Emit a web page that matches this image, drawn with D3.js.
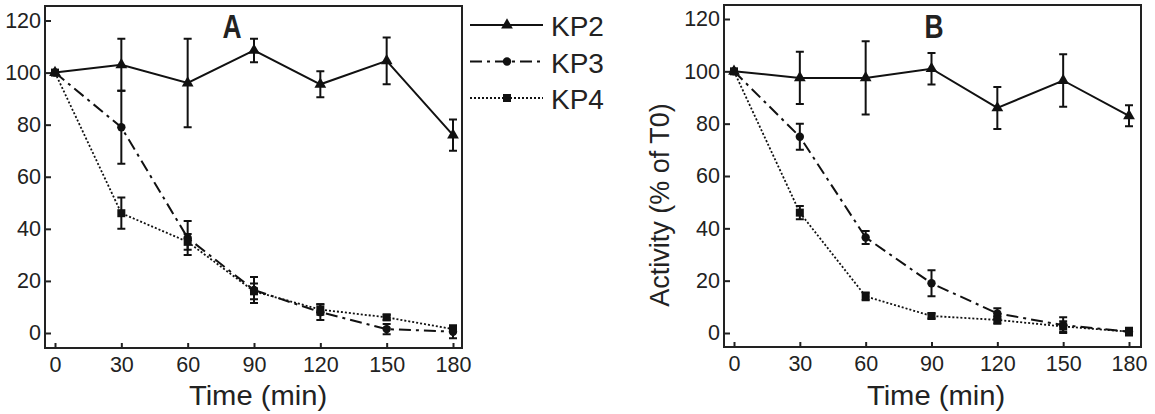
<!DOCTYPE html>
<html lang="en">
<head>
<meta charset="utf-8">
<script src="https://d3js.org/d3.v7.js"></script>
<style>
  body { margin: 0; background: #fff; }
  text { font-family: "Liberation Sans", Arial, sans-serif; fill: #222; }
</style>
</head>
<body>
<div id="my_dataviz"></div>
<script>

// sampling times (min)
const times = [0, 30, 60, 90, 120, 150, 180];

// panel A
const kp2A = [100, 103, 96, 108.5, 95.5, 104.5, 76];
const kp2AErr = [0, 10, 17, 4.5, 5, 9, 6];
const kp3A = [100, 79, 36.5, 16.5, 8, 1.5, 0.5];
const kp3AErr = [0, 14, 6.5, 5, 3, 2, 2.5];
const kp4A = [100, 46, 35, 16, 9, 6, 1.5];
const kp4AErr = [0, 6, 3, 3, 2, 1, 1];

// panel B
const kp2B = [100, 97.5, 97.5, 101, 86, 96.5, 83];
const kp2BErr = [0, 10, 14, 6, 8, 10, 4];
const kp3B = [100, 75, 36.5, 19, 7.5, 3, 0.5];
const kp3BErr = [0, 5, 2.5, 5, 2, 3, 1.5];
const kp4B = [100, 46, 14, 6.5, 5, 2.5, 0.5];
const kp4BErr = [0, 2.5, 1.5, 1, 1.5, 2, 1];

const seriesNames = ["KP2", "KP3", "KP4"];
const xTicks = [0, 30, 60, 90, 120, 150, 180];
const yTicks = [0, 20, 40, 60, 80, 100, 120];

// line style per series
const styles = {
  KP2: { dash: null, width: 2, marker: "triangle" },
  KP3: { dash: "12,5,3,5", width: 2, marker: "circle" },
  KP4: { dash: "2,2", width: 1.8, marker: "square" }
};

const svg = d3.select("#my_dataviz")
  .append("svg")
    .attr("width", 1155)
    .attr("height", 414);

function drawMarker(g, type, cx, cy) {
  if (type === "triangle") {
    g.append("path")
      .attr("d", d3.symbol().type(d3.symbolTriangle).size(60)())
      .attr("transform", `translate(${cx},${cy})`)
      .attr("fill", "#111");
  } else if (type === "circle") {
    g.append("circle").attr("cx", cx).attr("cy", cy).attr("r", 4.2).attr("fill", "#111");
  } else {
    g.append("rect").attr("x", cx - 4).attr("y", cy - 4).attr("width", 8).attr("height", 8).attr("fill", "#111");
  }
}

function panel(opts) {
  const x = d3.scaleLinear().domain([0, 180]).range(opts.xRange);
  const y = d3.scaleLinear().domain([0, 120]).range(opts.yRange);
  const f = opts.frame;
  const g = svg.append("g");

  // frame
  g.append("rect")
    .attr("x", f.left).attr("y", f.top)
    .attr("width", f.right - f.left).attr("height", f.bottom - f.top)
    .attr("fill", "none").attr("stroke", "#222").attr("stroke-width", 2);

  // axes, inward ticks
  const xAxis = g.append("g")
    .attr("transform", `translate(0,${f.bottom})`)
    .call(d3.axisBottom(x).tickValues(xTicks).tickSizeInner(-5).tickSizeOuter(0).tickPadding(9));
  const yAxis = g.append("g")
    .attr("transform", `translate(${f.left},0)`)
    .call(d3.axisLeft(y).tickValues(yTicks).tickSizeInner(-6).tickSizeOuter(0).tickPadding(4));
  [xAxis, yAxis].forEach(a => {
    a.select(".domain").remove();
    a.selectAll("line").attr("stroke", "#222").attr("stroke-width", 2);
    a.selectAll("text").style("font-size", "21.5px").attr("fill", "#222");
  });

  // data
  opts.series.forEach(s => {
    const st = styles[s.name];
    const pts = times.map((t, i) => ({ t: t, v: s.values[i], e: s.errors[i] }));
    g.append("path")
      .datum(pts)
      .attr("d", d3.line().x(d => x(d.t)).y(d => y(d.v)))
      .attr("fill", "none")
      .attr("stroke", "#111")
      .attr("stroke-width", st.width)
      .attr("stroke-dasharray", st.dash);

    // error bars
    pts.filter(d => d.e > 0).forEach(d => {
      const cx = x(d.t), y1 = y(d.v + d.e), y2 = y(d.v - d.e);
      g.append("path")
        .attr("d", `M${cx},${y1}V${y2}M${cx - 4},${y1}H${cx + 4}M${cx - 4},${y2}H${cx + 4}`)
        .attr("fill", "none").attr("stroke", "#111").attr("stroke-width", 2);
    });

    pts.forEach(d => drawMarker(g, st.marker, x(d.t), y(d.v)));
  });

  // panel letter
  g.append("text")
    .attr("transform", `translate(${opts.letterX},38) scale(0.8,1)`)
    .attr("text-anchor", "middle")
    .style("font-size", "33px")
    .style("font-weight", "bold")
    .attr("fill", "#111")
    .text(opts.letter);

  // x axis title
  g.append("text")
    .attr("transform", `translate(${opts.titleX},405) scale(1.08,1)`)
    .attr("text-anchor", "middle")
    .style("font-size", "27px")
    .text("Time (min)");

  return g;
}

panel({
  xRange: [55, 453], yRange: [333, 20.5],
  frame: { left: 45, right: 462, top: 6, bottom: 348 },
  letter: "A", letterX: 232, titleX: 258,
  series: [
    { name: "KP2", values: kp2A, errors: kp2AErr },
    { name: "KP3", values: kp3A, errors: kp3AErr },
    { name: "KP4", values: kp4A, errors: kp4AErr }
  ]
});

const gB = panel({
  xRange: [734, 1129], yRange: [333, 19],
  frame: { left: 724, right: 1141, top: 5, bottom: 347 },
  letter: "B", letterX: 934, titleX: 936,
  series: [
    { name: "KP2", values: kp2B, errors: kp2BErr },
    { name: "KP3", values: kp3B, errors: kp3BErr },
    { name: "KP4", values: kp4B, errors: kp4BErr }
  ]
});

// y axis title for panel B
gB.append("text")
  .attr("transform", "translate(669,205) rotate(-90)")
  .attr("text-anchor", "middle")
  .style("font-size", "27px")
  .text("Activity (% of T0)");

// legend (beside panel A)
const legend = svg.append("g");
seriesNames.forEach((name, i) => {
  const ly = 25 + i * 36.5;
  const st = styles[name];
  legend.append("line")
    .attr("x1", 470).attr("x2", 543).attr("y1", ly).attr("y2", ly)
    .attr("stroke", "#111").attr("stroke-width", st.width)
    .attr("stroke-dasharray", st.dash);
  drawMarker(legend, st.marker, 507, ly);
  legend.append("text")
    .attr("x", 551).attr("y", ly + 11)
    .style("font-size", "28px")
    .text(name);
});

</script>
</body>
</html>
